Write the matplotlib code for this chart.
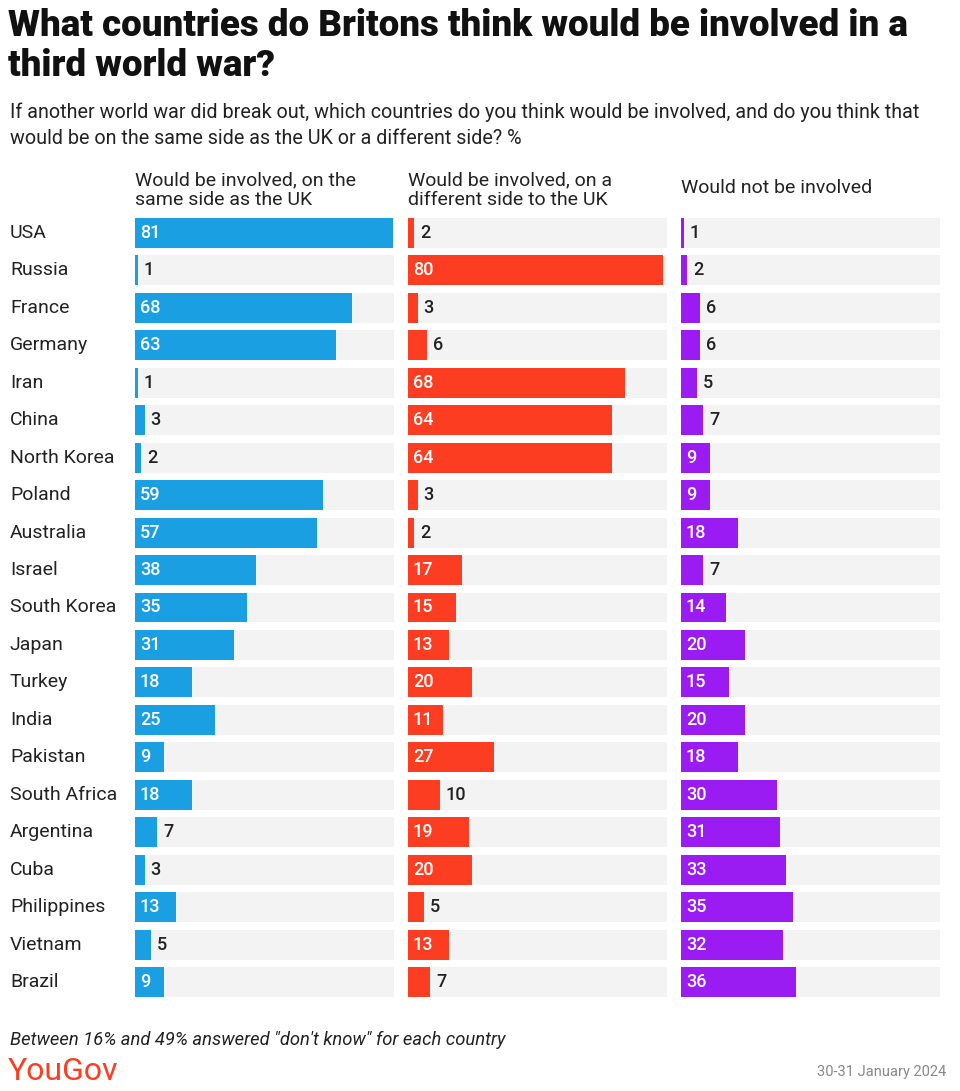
import matplotlib
matplotlib.use("Agg")
import matplotlib.pyplot as plt

countries = ["USA", "Russia", "France", "Germany", "Iran", "China", "North Korea",
             "Poland", "Australia", "Israel", "South Korea", "Japan", "Turkey",
             "India", "Pakistan", "South Africa", "Argentina", "Cuba",
             "Philippines", "Vietnam", "Brazil"]
same_side = [81, 1, 68, 63, 1, 3, 2, 59, 57, 38, 35, 31, 18, 25, 9, 18, 7, 3, 13, 5, 9]
different_side = [2, 80, 3, 6, 68, 64, 64, 3, 2, 17, 15, 13, 20, 11, 27, 10, 19, 20, 5, 13, 7]
not_involved = [1, 2, 6, 6, 5, 7, 9, 9, 18, 7, 14, 20, 15, 20, 18, 30, 31, 33, 35, 32, 36]
headers = ["Would be involved, on the\nsame side as the UK",
           "Would be involved, on a\ndifferent side to the UK",
           "Would not be involved"]

title = "What countries do Britons think would be involved in a\nthird world war?"
subtitle = ("If another world war did break out, which countries do you think would be involved, and do you think that\n"
            "would be on the same side as the UK or a different side? %")
note = "Between 16% and 49% answered \"don't know\" for each country"
date = "30-31 January 2024"

plt.rcParams['font.family'] = ['Roboto', 'DejaVu Sans']

W, H = 960, 1091
fig = plt.figure(figsize=(W / 100, H / 100), dpi=100)
fig.patch.set_facecolor("white")

def fx(px):
    return px / W

def fy(py):
    return 1 - py / H

colors = ["#1a9fe3", "#fc3d21", "#9a1cf2"]
thresholds = [9, 11, 9]
series = [same_side, different_side, not_involved]
lefts = [135, 408, 681]
panel_w = 259
xmax = 81.3
row_h = 37.45
top = 233 - row_h / 2
n = len(countries)
bottom = top + n * row_h

for i, (vals, col) in enumerate(zip(series, colors)):
    ax = fig.add_axes([fx(lefts[i]), fy(bottom), panel_w / W, n * row_h / H])
    ys = list(range(n))
    ax.barh(ys, [xmax] * n, height=0.8, color="#f3f3f3", left=0)
    ax.barh(ys, vals, height=0.8, color=col)
    for y, v in zip(ys, vals):
        if v >= thresholds[i]:
            ax.text(1.5, y, str(v), color="white", va="center", ha="left",
                    fontsize=13, fontweight="medium")
        else:
            ax.text(v + 1.8, y, str(v), color="#222222", va="center", ha="left",
                    fontsize=13, fontweight="medium")
    ax.set_xlim(0, xmax)
    ax.set_ylim(n - 0.5, -0.5)
    ax.axis("off")
    hy = 188 if "\n" not in headers[i] else 190
    fig.text(fx(lefts[i]), fy(hy), headers[i], ha="left", va="center",
             fontsize=14, color="#222222", linespacing=1.1)

for j, c in enumerate(countries):
    fig.text(fx(10), fy(233 + j * row_h), c, ha="left", va="center",
             fontsize=14, color="#222222")

fig.text(fx(8), fy(8), title, ha="left", va="top", fontsize=26.5,
         fontweight="black", color="#111111", linespacing=1.15)
fig.text(fx(10), fy(102), subtitle, ha="left", va="top", fontsize=14.2,
         color="#222222", linespacing=1.5)
fig.text(fx(10), fy(1040), note, ha="left", va="center", fontsize=13.2,
         style="italic", color="#222222")
fig.text(fx(8), fy(1071), "YouGov", ha="left", va="center", fontsize=23,
         color="#fc3d21")
fig.text(fx(946), fy(1072), date, ha="right", va="center", fontsize=10.5,
         color="#888888")

fig.savefig("out.png", dpi=100, facecolor="white")
